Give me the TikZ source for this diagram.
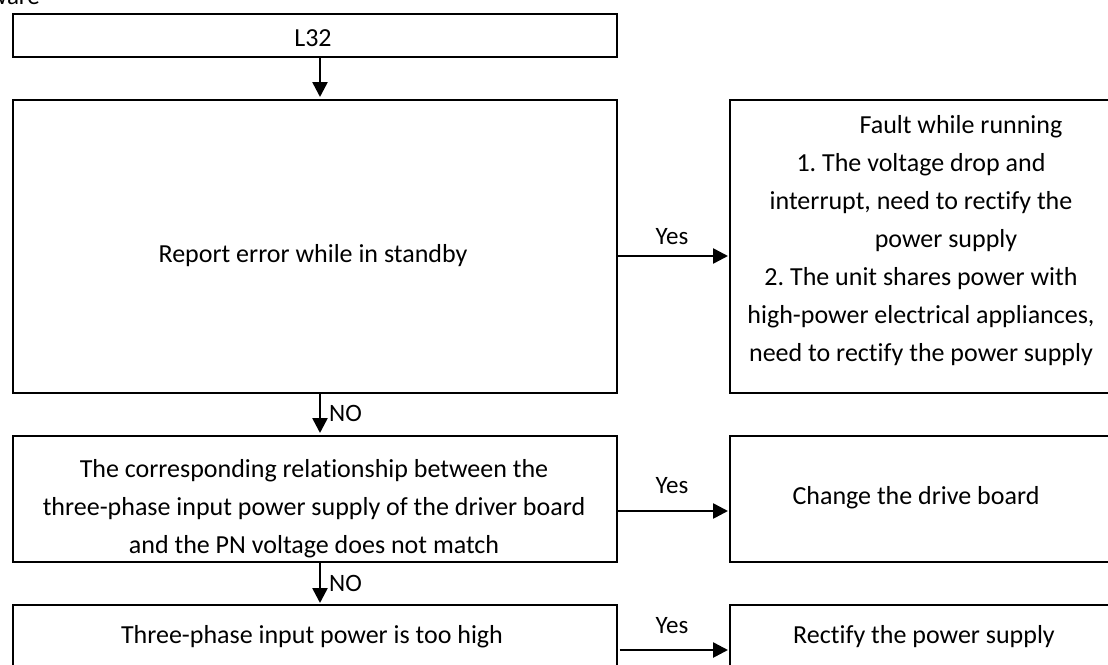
\documentclass[tikz,border=0pt]{standalone}
\usepackage{fontspec}
\setmainfont{Carlito}[Ligatures=NoCommon]
\usetikzlibrary{arrows.meta,calc}
\frenchspacing
\begin{document}
\begin{tikzpicture}[x=1pt,y=-1pt,
  box/.style={draw=black,line width=1.6pt,rectangle,inner sep=0pt,anchor=north west},
  txt/.style={font=\fontsize{26}{38}\selectfont,align=center,inner sep=0pt},
  lbl/.style={font=\fontsize{25}{28}\selectfont,inner sep=0pt},
  arr/.style={line width=2.6pt,-{Triangle[length=15pt,width=15pt]}}]
\useasboundingbox (0,0) rectangle (1108,664);
\clip (0,0) rectangle (1108,664);
\node[lbl,anchor=base east] (frag) at (40,4) {ware};
% boxes
\node[box,minimum width=604pt,minimum height=43pt] (b1) at (12,13) {};
\node[box,minimum width=604pt,minimum height=293pt] (b2) at (12,99) {};
\node[box,minimum width=604pt,minimum height=126pt] (b3) at (12,435) {};
\node[box,minimum width=604pt,minimum height=120pt] (b4) at (12,604) {};
\node[box,minimum width=383pt,minimum height=293pt] (r1) at (729,99) {};
\node[box,minimum width=383pt,minimum height=126pt] (r2) at (729,435) {};
\node[box,minimum width=383pt,minimum height=120pt] (r3) at (729,604) {};
% texts
\node[txt] (t1) at (313,38) {L32};
\node[txt] (t2) at (313,256) {Report error while in standby};
\node[txt] (t3) at (314,509) {The corresponding relationship between the\\three-phase input power supply of the driver board\\and the PN voltage does not match};
\node[txt] (t4) at (312,637) {Three-phase input power is too high};
\node[txt] (tr1) at (921,241) {\hspace*{80pt}Fault while running\\1. The voltage drop and\\interrupt, need to rectify the\\\hspace*{50pt}power supply\\2. The unit shares power with\\high-power electrical appliances,\\need to rectify the power supply};
\node[txt] (tr2) at (916,498) {Change the drive board};
\node[txt] (tr3) at (924,637) {Rectify the power supply};
% arrow guides
\coordinate (ax) at (320,0);
\coordinate (y1) at (0,256);
\coordinate (y2) at (0,511);
\coordinate (y3) at (0,650);
% vertical arrows
\draw[arr,shorten >=2pt] (b1.south -| ax) -- (b2.north -| ax);
\draw[arr,shorten >=2pt] (b2.south -| ax) -- (b3.north -| ax);
\draw[arr,shorten >=1pt] (b3.south -| ax) -- (b4.north -| ax);
% horizontal arrows
\draw[arr,shorten >=1pt] (b2.east |- y1) -- (r1.west |- y1);
\draw[arr,shorten >=1pt] (b3.east |- y2) -- (r2.west |- y2);
\draw[arr,shorten >=1pt,shorten <=2pt] (b4.east |- y3) -- (r3.west |- y3);
% labels
\node[lbl] (yes1) at (672,237) {Yes};
\node[lbl] (yes2) at (672,486) {Yes};
\node[lbl] (yes3) at (672,626) {Yes};
\node[lbl,anchor=west] (no1) at (329,413) {NO};
\node[lbl,anchor=west] (no2) at (329,583) {NO};
\end{tikzpicture}
\end{document}
